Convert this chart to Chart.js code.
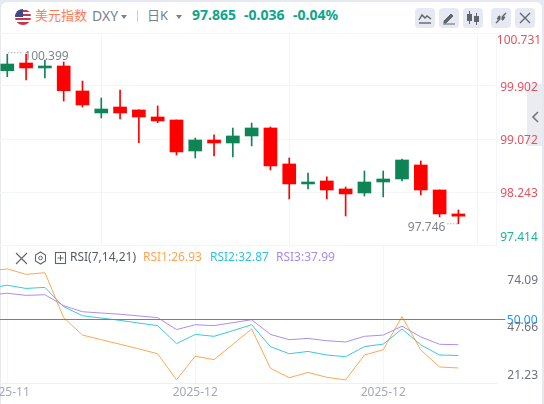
<!DOCTYPE html>
<html>
<head>
<meta charset="utf-8">
<title>DXY</title>
<script src="https://cdn.jsdelivr.net/npm/chart.js@4/dist/chart.umd.min.js"></script>
<style>
  html, body { margin: 0; padding: 0; }
  body { width: 544px; height: 404px; overflow: hidden; background: #e6e9ef; position: relative; font-family: "Noto Sans", "Noto Sans CJK SC", sans-serif; }
  #card { position: absolute; left: 1px; top: 2px; width: 541px; height: 402px; background: #fff; border-radius: 6px 6px 0 0; }
  .t { position: absolute; white-space: nowrap; line-height: 16px; }
  .btn { position: absolute; top: 8px; width: 20px; height: 20px; border-radius: 4px; background: #e6e9f1; }
  .btn svg { display: block; }
  #tab { position: absolute; left: 527px; top: 84px; width: 15px; height: 62px; background: #eaecf2; }
  canvas { position: absolute; }
  .caret { position: absolute; width: 0; height: 0; border-left: 3px solid transparent; border-right: 3px solid transparent; border-top: 4px solid #7a7f8c; }
  .green { color: #0ea58b; font-weight: 700; font-size: 14px; top: 7px; }
  .rsi { top: 249px; font-size: 12px; }
</style>
</head>
<body>
<div id="card"></div>
<div id="tab"><svg width="15" height="62"><path d="M11 28l-5 5 5 5" fill="none" stroke="#70757f" stroke-width="1.6"/></svg></div>

<svg style="position:absolute;left:15px;top:9px" width="16" height="16" viewBox="0 0 16 16">
  <defs><clipPath id="fc"><circle cx="8" cy="8" r="8"/></clipPath></defs>
  <g clip-path="url(#fc)">
    <rect width="16" height="16" fill="#fff"/>
    <path d="M0 1h16v2H0zM0 5h16v2H0zM0 9h16v2H0zM0 13h16v3H0z" fill="#c8354a"/>
    <rect width="8" height="8" fill="#3f4a8a"/>
  </g>
</svg>
<div class="t" style="left:35px;top:7px;font-size:13px;color:#ff7a55">美元指数</div>
<div class="t" style="left:92px;top:8px;font-size:14px;color:#7a7f8c">DXY</div>
<div class="caret" style="left:121px;top:15px"></div>
<div style="position:absolute;left:137px;top:10px;width:1px;height:12px;background:#c9ccd4"></div>
<div class="t" style="left:147px;top:7px;font-size:13px;color:#7a7f8c">日K</div>
<div class="caret" style="left:176px;top:15px"></div>
<div class="t green" style="left:192px">97.865</div>
<div class="t green" style="left:244px">-0.036</div>
<div class="t green" style="left:293px">-0.04%</div>

<div class="btn" style="left:415px"><svg width="20" height="20"><path d="M4 12l3-5 3 3 2-2 4 3" fill="none" stroke="#5f646e" stroke-width="1.4"/><path d="M4 15h12" stroke="#5f646e" stroke-width="1.4"/></svg></div>
<div class="btn" style="left:439px"><svg width="20" height="20"><path d="M5 13l7-7 2 2-7 7H5zM4 16h12" fill="#5f646e" stroke="#5f646e"/></svg></div>
<div class="btn" style="left:463px"><svg width="20" height="20"><rect x="4" y="6" width="5" height="7" fill="#5f646e"/><rect x="11" y="8" width="5" height="6" fill="#5f646e"/><path d="M6.5 3v13M13.5 5v12" stroke="#5f646e"/></svg></div>
<div class="btn" style="left:491px"><svg width="20" height="20"><path d="M5 15l4-4M15 5l-4 4" stroke="#5f646e" stroke-width="1.4"/><path d="M8 8h1v3H6zM12 12h-1V9h3z" fill="#5f646e" stroke="#5f646e"/></svg></div>
<div class="btn" style="left:515px"><svg width="20" height="20"><path d="M5 5l10 10M15 5L5 15" stroke="#5f646e" stroke-width="1.3"/></svg></div>

<canvas id="chart-price" width="544" height="213" style="left:0;top:33px"></canvas>
<canvas id="chart-rsi" width="538" height="159" style="left:0;top:245px"></canvas>

<svg style="position:absolute;left:15px;top:251px" width="52" height="14">
  <path d="M1 2l11 11M12 2L1 13" stroke="#5f646e" stroke-width="1.1"/>
  <path d="M25.5 1l5 3v6l-5 3-5-3V4z" fill="none" stroke="#5f646e" stroke-width="1.1"/>
  <circle cx="25.5" cy="7" r="1.8" fill="none" stroke="#5f646e"/>
  <rect x="40.5" y="1.5" width="10" height="11" fill="none" stroke="#5f646e" stroke-width="1.1"/>
  <path d="M45.5 4v6M42.5 7h6" stroke="#5f646e"/>
</svg>
<div class="t rsi" style="left:70px;color:#555a65">RSI(7,14,21)</div>
<div class="t rsi" style="left:143px;color:#ffa552">RSI1:26.93</div>
<div class="t rsi" style="left:210px;color:#2ec5dc">RSI2:32.87</div>
<div class="t rsi" style="left:276px;color:#a98cf0">RSI3:37.99</div>

<script>
// daily candles
const opens  = [100.141, 100.262, 100.184, 100.215, 99.824, 99.480, 99.573, 99.527, 99.417, 99.370, 98.885, 99.057, 99.010, 99.120, 99.245, 98.682, 98.369, 98.416, 98.291, 98.228, 98.400, 98.447, 98.666, 98.275, 97.900];
const closes = [100.246, 100.184, 100.215, 99.828, 99.605, 99.542, 99.480, 99.417, 99.355, 98.870, 99.057, 99.010, 99.120, 99.245, 98.651, 98.369, 98.400, 98.275, 98.213, 98.400, 98.447, 98.744, 98.275, 97.900, 97.865];
const highs  = [100.399, 100.396, 100.309, 100.277, 99.980, 99.714, 99.839, 99.527, 99.589, 99.370, 99.089, 99.136, 99.245, 99.323, 99.261, 98.776, 98.541, 98.479, 98.322, 98.572, 98.572, 98.760, 98.729, 98.275, 97.962];
const lows   = [100.047, 99.996, 100.027, 99.667, 99.573, 99.401, 99.386, 99.015, 99.328, 98.823, 98.776, 98.807, 98.791, 98.963, 98.588, 98.134, 98.291, 98.134, 97.868, 98.181, 98.166, 98.416, 98.197, 97.853, 97.746];

// RSI values, first one belongs to the candle just off the left edge
const rsi1 = [73.1, 74.09, 71.5, 72.3, 50.9, 42.6, 40.4, 38.2, 36.0, 33.7, 21.3, 32.5, 30.9, 38.2, 45.5, 26.8, 22.3, 24.8, 22.5, 21.23, 33.1, 35.6, 51.4, 35.5, 27.4, 26.93];
const rsi2 = [65.0, 66.3, 64.8, 65.3, 56.1, 51.8, 50.7, 49.6, 48.3, 47.1, 38.5, 42.9, 42.0, 44.7, 47.5, 37.1, 33.7, 34.8, 33.1, 32.3, 37.1, 38.3, 45.5, 37.9, 33.1, 32.87];
const rsi3 = [61.7, 62.5, 61.5, 61.8, 56.6, 53.7, 53.1, 52.5, 51.7, 50.9, 45.2, 47.5, 47.1, 48.5, 49.9, 42.9, 40.4, 41.0, 39.9, 39.3, 42.0, 42.6, 46.8, 41.7, 38.2, 37.99];
const rsiLevel = [50, 50];

const priceTicks = [100.731, 99.902, 99.072, 98.243, 97.414];
const rsiTicks   = [74.09, 47.66, 21.23];
const timeTicks  = [0, 10, 20];
const timeLabels = ['2025-11', '2025-12', '2025-12'];

const FONT  = '"Noto Sans", sans-serif';
const GRID  = '#f4f5f9';
const UP    = '#0f8457';
const DOWN  = '#ff0000';
const X_MIN = -0.388;
const X_MAX = 26;

Chart.defaults.font.family = FONT;
Chart.defaults.animation = false;
Chart.defaults.responsive = false;

const candleColors = closes.map((c, i) => (c >= opens[i] ? UP : DOWN));

// price axis labels stay inside the panel, that is why they are not native ticks
const priceLabels = {
  id: 'priceLabels',
  afterDraw(chart) {
    const { ctx, chartArea, scales } = chart;
    ctx.save();
    ctx.font = '12px ' + FONT;
    ctx.textAlign = 'center';
    ctx.textBaseline = 'middle';
    priceTicks.forEach((v, i) => {
      const y = Math.min(chartArea.bottom - 7, Math.max(chartArea.top + 8, scales.y.getPixelForValue(v) + 2));
      ctx.fillStyle = i === priceTicks.length - 1 ? '#1db398' : '#e4525f';
      ctx.fillText(v.toFixed(3), 519, y);
    });

    // highest / lowest marks
    const maxPrice = Math.max(...highs), minPrice = Math.min(...lows);
    const hx = scales.x.getPixelForValue(highs.indexOf(maxPrice));
    const hy = scales.y.getPixelForValue(maxPrice);
    const lx = scales.x.getPixelForValue(lows.indexOf(minPrice));
    const ly = scales.y.getPixelForValue(minPrice);
    ctx.strokeStyle = '#8a8e9a';
    ctx.setLineDash([1, 2]);
    ctx.beginPath();
    ctx.moveTo(hx + 1, hy - 1.5);
    ctx.lineTo(hx + 16, hy - 1.5);
    ctx.moveTo(lx - 11, ly);
    ctx.lineTo(lx, ly);
    ctx.stroke();
    ctx.fillStyle = '#80848f';
    ctx.textAlign = 'left';
    ctx.fillText(maxPrice.toFixed(3), hx + 17, hy + 2.5);
    ctx.textAlign = 'right';
    ctx.fillText(minPrice.toFixed(3), lx - 13, ly + 3.5);
    ctx.restore();
  },
};

new Chart(document.getElementById('chart-price'), {
  type: 'bar',
  data: {
    datasets: [
      {
        data: highs.map((h, i) => ({ x: i, y: [lows[i], h] })),
        backgroundColor: candleColors,
        barThickness: 1,
        grouped: false,
      },
      {
        data: opens.map((o, i) => ({ x: i, y: [o, closes[i]] })),
        backgroundColor: candleColors,
        barThickness: 13,
        grouped: false,
      },
    ],
  },
  options: {
    layout: { padding: { bottom: 1 } },
    plugins: { legend: { display: false }, tooltip: { enabled: false } },
    scales: {
      x: {
        type: 'linear',
        offset: false,
        min: X_MIN,
        max: X_MAX,
        afterBuildTicks(scale) { scale.ticks = timeTicks.map(value => ({ value })); },
        afterFit(scale) { scale.height = 0; },
        ticks: { display: false },
        grid: { color: GRID, drawTicks: false },
        border: { display: false },
      },
      y: {
        position: 'right',
        min: priceTicks[priceTicks.length - 1],
        max: priceTicks[0],
        afterBuildTicks(scale) { scale.ticks = priceTicks.map(value => ({ value })); },
        afterFit(scale) { scale.width = 48; },
        ticks: { display: false },
        grid: { color: GRID, drawTicks: false },
        border: { display: true, color: GRID },
      },
    },
  },
  plugins: [priceLabels],
});

// blue 50.00 label on top of the level line
const levelLabel = {
  id: 'levelLabel',
  afterDraw(chart) {
    const { ctx, scales } = chart;
    ctx.save();
    ctx.font = '12px ' + FONT;
    ctx.textAlign = 'right';
    ctx.textBaseline = 'middle';
    ctx.fillStyle = '#2196f3';
    ctx.fillText(rsiLevel[0].toFixed(2), 537.5, scales.y.getPixelForValue(rsiLevel[0]) + 1);
    ctx.restore();
  },
};

const rsiLine = (values, color) => ({
  data: values.map((y, i) => ({ x: i - 1, y })),
  borderColor: color,
  borderWidth: 1,
  pointRadius: 0,
  tension: 0,
  yAxisID: 'y',
});

new Chart(document.getElementById('chart-rsi'), {
  type: 'line',
  data: {
    datasets: [
      {
        data: [{ x: X_MIN, y: rsiLevel[0] }, { x: 26.5, y: rsiLevel[1] }],
        borderColor: '#2196f3',
        borderWidth: 1,
        pointRadius: 0,
        clip: false,
        yAxisID: 'y',
      },
      rsiLine(rsi3, '#ab8df0'),
      rsiLine(rsi2, '#3ac8dc'),
      rsiLine(rsi1, '#ffa756'),
    ],
  },
  options: {
    plugins: { legend: { display: false }, tooltip: { enabled: false } },
    scales: {
      x: {
        type: 'linear',
        offset: false,
        min: X_MIN,
        max: X_MAX,
        afterBuildTicks(scale) { scale.ticks = timeTicks.map(value => ({ value })); },
        afterFit(scale) { scale.height = 21; scale.paddingLeft = 0; scale.paddingRight = 0; },
        ticks: {
          autoSkip: false,
          maxRotation: 0,
          padding: 2,
          color: '#a6a9b6',
          font: { size: 12 },
          callback: value => timeLabels[timeTicks.indexOf(value)],
        },
        grid: { color: GRID, drawTicks: false },
        border: { display: true, color: '#eef0f4' },
      },
      // the real RSI scale, all lines use it
      y: {
        display: false,
        min: 19.77,
        max: 85.48,
      },
      // the min/mid/max labels sit closer together than the line scale
      yLabels: {
        position: 'right',
        min: 16.39,
        max: 93.18,
        afterBuildTicks(scale) { scale.ticks = rsiTicks.map(value => ({ value })); },
        afterFit(scale) { scale.width = 42; scale.paddingTop = 0; scale.paddingBottom = 0; },
        ticks: {
          crossAlign: 'far',
          padding: 0,
          labelOffset: 1,
          color: '#6e727d',
          font: { size: 12 },
          callback: value => value.toFixed(2),
        },
        grid: { display: false, drawTicks: false },
        border: { display: false },
      },
    },
  },
  plugins: [levelLabel],
});
</script>
</body>
</html>
